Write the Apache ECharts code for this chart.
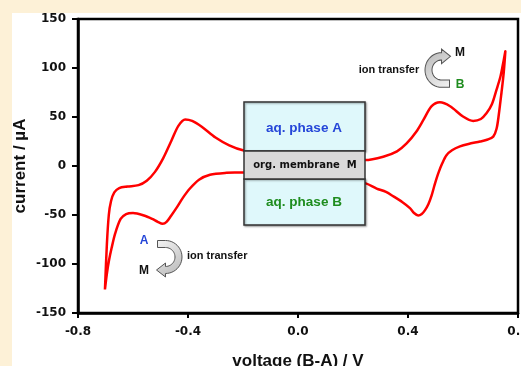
<!DOCTYPE html>
<html>
<head>
<meta charset="utf-8">
<script src="https://cdn.jsdelivr.net/npm/echarts@6/dist/echarts.min.js"></script>
<style>
html, body { margin: 0; padding: 0; background: #FDF1D7; overflow: hidden; }
#panel { position: absolute; left: 12px; top: 13px; width: 509px; height: 353px; background: #ffffff; }
#chart { position: absolute; left: 0; top: 0; width: 521px; height: 366px; }
</style>
</head>
<body>
<div id="panel"></div>
<div id="chart"></div>
<script>
// Forward scan (upper branch), voltage in V and current in µA
const voltageUp = [-0.702, -0.695, -0.688, -0.68, -0.668, -0.65, -0.62, -0.58, -0.55, -0.52, -0.49, -0.46, -0.435, -0.41, -0.385, -0.35, -0.3, -0.25, -0.2, -0.1, 0.0, 0.1, 0.2, 0.244, 0.31, 0.36, 0.395, 0.43, 0.456, 0.486, 0.516, 0.553, 0.6, 0.637, 0.665, 0.686, 0.705, 0.722, 0.735, 0.744, 0.754];
const currentUp = [-126, -80, -50, -36, -27, -22.5, -21, -19.5, -15, -6, 8, 26, 41, 47.5, 46, 40, 29, 21, 16, 12, 10, 8, 7, 6, 9.5, 15, 23, 35, 47, 61, 65, 61, 50.5, 46, 48, 54, 63, 78, 90, 102, 117];
// Reverse scan (lower branch)
const voltageDown = [0.748, 0.74, 0.73, 0.722, 0.71, 0.69, 0.662, 0.62, 0.589, 0.56, 0.54, 0.525, 0.51, 0.497, 0.486, 0.474, 0.462, 0.45, 0.437, 0.422, 0.407, 0.38, 0.347, 0.32, 0.286, 0.244, 0.15, 0.05, -0.05, -0.15, -0.2, -0.26, -0.32, -0.36, -0.393, -0.42, -0.44, -0.462, -0.478, -0.492, -0.51, -0.53, -0.56, -0.6, -0.625, -0.645, -0.665, -0.678, -0.687, -0.695, -0.702];
const currentDown = [95, 75, 52, 38, 30, 27, 25, 22.5, 20, 16, 11, 3, -7.5, -19, -30, -39, -45, -49, -50.5, -48, -43, -37, -31, -26.5, -23, -17.5, -13, -11, -9.5, -7.5, -6.5, -7, -9, -14, -23, -33, -42, -51, -57, -59, -57, -54, -50.5, -48, -49, -54, -69, -84, -96, -110, -126];
const xTicks = [-0.8, -0.4, 0.0, 0.4, 0.8];
const yTicks = [-150, -100, -50, 0, 50, 100, 150];

const loop = voltageUp.map((v, i) => [v, currentUp[i]])
  .concat(voltageDown.map((v, i) => [v, currentDown[i]]));

const chart = echarts.init(document.getElementById('chart'), null, { renderer: 'canvas' });

// curved "C"-shaped arrow outline (opening left, arrowhead at bottom pointing left)
function arrowPoints() {
  const R = 16.5, r = 9.5, pts = [[-8, -R]];
  for (let k = 0; k <= 24; k++) {
    const a = -Math.PI / 2 + Math.PI * k / 24;
    pts.push([R * Math.cos(a), R * Math.sin(a)]);
  }
  pts.push([0, 20], [-9, 13], [0, 6]);
  for (let k = 24; k >= 0; k--) {
    const a = -Math.PI / 2 + Math.PI * k / 24;
    pts.push([r * Math.cos(a), r * Math.sin(a)]);
  }
  pts.push([-8, -r]);
  return pts;
}
const arrowFill = { type: 'linear', x: 0, y: 0, x2: 1, y2: 1, colorStops: [
  { offset: 0, color: '#f4f4f4' }, { offset: 1, color: '#b5b5b5' }
] };
const boldSans = 'bold 13.5px "Liberation Sans", Arial, sans-serif';

chart.setOption({
  animation: false,
  backgroundColor: 'transparent',
  grid: { left: 78, right: 3, top: 19, bottom: 53, containLabel: false, outerBoundsMode: 'none',
          show: true, borderColor: '#000', borderWidth: 2.5, backgroundColor: '#fff' },
  xAxis: {
    type: 'value', min: xTicks[0], max: xTicks[xTicks.length - 1], interval: xTicks[1] - xTicks[0],
    name: 'voltage (B-A) / V', nameLocation: 'middle', nameGap: 40,
    nameTextStyle: { fontFamily: 'Liberation Sans', fontWeight: 'bold', fontSize: 17, color: '#111' },
    axisLine: { show: true, onZero: false, lineStyle: { color: '#000', width: 2.5 } },
    axisTick: { show: true, inside: false, length: 5, lineStyle: { color: '#000', width: 2 } },
    axisLabel: { margin: 13, formatter: v => v.toFixed(1), fontFamily: 'DejaVu Sans', fontWeight: 'bold', fontSize: 12, color: '#111', showMaxLabel: true },
    splitLine: { show: false }
  },
  yAxis: {
    type: 'value', min: yTicks[0], max: yTicks[yTicks.length - 1], interval: yTicks[1] - yTicks[0],
    name: 'current / µA', nameLocation: 'middle', nameGap: 49, nameMoveOverlap: false,
    nameTextStyle: { fontFamily: 'Liberation Sans', fontWeight: 'bold', fontSize: 17, color: '#111' },
    axisLine: { show: true, onZero: false, lineStyle: { color: '#000', width: 2.5 } },
    axisTick: { show: true, inside: false, length: 6, lineStyle: { color: '#000', width: 2 } },
    axisLabel: { margin: 12, fontFamily: 'DejaVu Sans', fontWeight: 'bold', fontSize: 12, color: '#111' },
    splitLine: { show: false }
  },
  series: [{
    type: 'line', data: loop, showSymbol: false, smooth: 0.3, z: 2,
    lineStyle: { color: '#ff0000', width: 2.5 }
  }],
  graphic: [
    // membrane box
    { type: 'rect', z: 100, shape: { x: 244, y: 102, width: 121, height: 49 }, style: { fill: '#dff8fb', stroke: '#333', lineWidth: 1.5, shadowBlur: 2, shadowOffsetX: 1, shadowOffsetY: 1, shadowColor: 'rgba(0,0,0,0.35)' } },
    { type: 'rect', z: 100, shape: { x: 244, y: 179, width: 121, height: 46 }, style: { fill: '#dff8fb', stroke: '#333', lineWidth: 1.5, shadowBlur: 2, shadowOffsetX: 1, shadowOffsetY: 1, shadowColor: 'rgba(0,0,0,0.35)' } },
    { type: 'rect', z: 101, shape: { x: 244, y: 151, width: 121, height: 28 }, style: { fill: '#d9d9d9', stroke: '#333', lineWidth: 1.5 } },
    { type: 'text', z: 102, style: { x: 304, y: 128, text: 'aq. phase A', font: boldSans, fill: '#2546d8', textAlign: 'center', textVerticalAlign: 'middle' } },
    { type: 'text', z: 102, style: { x: 305, y: 165, text: 'org. membrane  M', font: 'bold 10px "DejaVu Sans", sans-serif', fill: '#111', textAlign: 'center', textVerticalAlign: 'middle' } },
    { type: 'text', z: 102, style: { x: 304, y: 202, text: 'aq. phase B', font: boldSans, fill: '#1e8c1e', textAlign: 'center', textVerticalAlign: 'middle' } },
    // upper-right annotation
    { type: 'polygon', z: 50, x: 441.5, y: 70, rotation: Math.PI, scaleY: 1.05, shape: { points: arrowPoints() }, style: { fill: arrowFill, stroke: '#555', lineWidth: 1 } },
    { type: 'text', z: 50, style: { x: 389, y: 70, text: 'ion transfer', font: 'bold 11px "Liberation Sans", Arial, sans-serif', fill: '#111', textAlign: 'center', textVerticalAlign: 'middle' } },
    { type: 'text', z: 50, style: { x: 460, y: 53, text: 'M', font: 'bold 12px "Liberation Sans", Arial, sans-serif', fill: '#111', textAlign: 'center', textVerticalAlign: 'middle' } },
    { type: 'text', z: 50, style: { x: 460, y: 85, text: 'B', font: 'bold 12px "Liberation Sans", Arial, sans-serif', fill: '#1e8c1e', textAlign: 'center', textVerticalAlign: 'middle' } },
    // lower-left annotation
    { type: 'polygon', z: 50, x: 165.5, y: 257, shape: { points: arrowPoints() }, style: { fill: arrowFill, stroke: '#555', lineWidth: 1 } },
    { type: 'text', z: 50, style: { x: 187, y: 256, text: 'ion transfer', font: 'bold 11px "Liberation Sans", Arial, sans-serif', fill: '#111', textAlign: 'left', textVerticalAlign: 'middle' } },
    { type: 'text', z: 50, style: { x: 144, y: 241, text: 'A', font: 'bold 12px "Liberation Sans", Arial, sans-serif', fill: '#2546d8', textAlign: 'center', textVerticalAlign: 'middle' } },
    { type: 'text', z: 50, style: { x: 144, y: 271, text: 'M', font: 'bold 12px "Liberation Sans", Arial, sans-serif', fill: '#111', textAlign: 'center', textVerticalAlign: 'middle' } }
  ]
});
</script>
</body>
</html>
